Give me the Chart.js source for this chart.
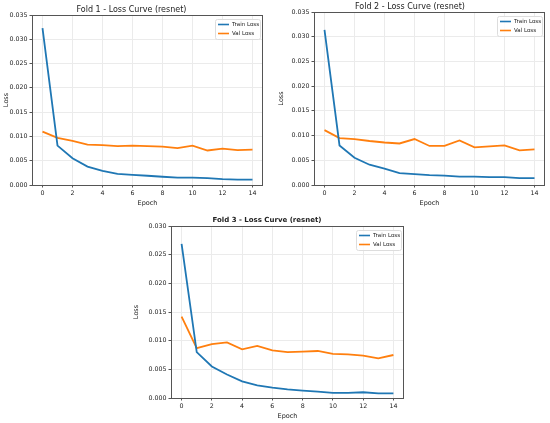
<!DOCTYPE html>
<html>
<head>
<meta charset="utf-8">
<script src="https://cdn.jsdelivr.net/npm/chart.js@4.4.1/dist/chart.umd.min.js"></script>
<style>
  body { margin: 0; background: #fff; }
  canvas { position: absolute; }
</style>
</head>
<body>
<canvas id="fold1" width="275" height="210" style="left:0px;top:0px"></canvas>
<canvas id="fold2" width="275" height="210" style="left:275px;top:0px"></canvas>
<canvas id="fold3" width="290" height="218" style="left:130px;top:205px"></canvas>
<script>
// epochs and tick labels
const epochs = [0, 1, 2, 3, 4, 5, 6, 7, 8, 9, 10, 11, 12, 13, 14];
const epochTicks = [0, 2, 4, 6, 8, 10, 12, 14];
const lossTicks35 = [0, 0.005, 0.01, 0.015, 0.02, 0.025, 0.03, 0.035];
const lossTicks30 = [0, 0.005, 0.01, 0.015, 0.02, 0.025, 0.03];

// fold 1
const trainFold1 = [0.0323, 0.0081, 0.0055, 0.0038, 0.0029, 0.0023, 0.0021, 0.0019, 0.0017, 0.0015, 0.0015, 0.0014, 0.0012, 0.0011, 0.0011];
const valFold1 = [0.0110, 0.0097, 0.0091, 0.0083, 0.0082, 0.0080, 0.0081, 0.0080, 0.0079, 0.0076, 0.0081, 0.0071, 0.0075, 0.0072, 0.0073];

// fold 2
const trainFold2 = [0.0314, 0.0080, 0.0055, 0.0041, 0.0033, 0.0024, 0.0022, 0.0020, 0.0019, 0.0017, 0.0017, 0.0016, 0.0016, 0.0014, 0.0014];
const valFold2 = [0.0111, 0.0095, 0.0093, 0.0089, 0.0086, 0.0084, 0.0093, 0.0079, 0.0079, 0.0090, 0.0076, 0.0078, 0.0080, 0.0070, 0.0072];

// fold 3
const trainFold3 = [0.0269, 0.0080, 0.0055, 0.0041, 0.0029, 0.0022, 0.0018, 0.0015, 0.0013, 0.0011, 0.0009, 0.0009, 0.0010, 0.0008, 0.0008];
const valFold3 = [0.0142, 0.0087, 0.0094, 0.0097, 0.0085, 0.0091, 0.0083, 0.0080, 0.0081, 0.0082, 0.0077, 0.0076, 0.0074, 0.0069, 0.0075];

const azul = '#1f77b4';
const laranja = '#ff7f0e';
const fonte = 'DejaVu Sans';

function pontos(valores) {
  return epochs.map((e, i) => ({ x: e, y: valores[i] }));
}

// moldura e legenda desenhadas por cima
const molduraLegenda = {
  id: 'molduraLegenda',
  afterDraw(chart) {
    const ctx = chart.ctx;
    const a = chart.chartArea;
    ctx.save();
    ctx.strokeStyle = '#555';
    ctx.lineWidth = 1;
    ctx.strokeRect(a.left + 0.5, a.top + 0.5, a.right - a.left - 1, a.bottom - a.top);

    const w = 45, h = 20;
    const x = a.right - 3 - w, y = a.top + 4;
    ctx.fillStyle = 'rgba(255,255,255,0.85)';
    ctx.strokeStyle = '#ddd';
    ctx.beginPath();
    ctx.roundRect(x + 0.5, y + 0.5, w, h, 2);
    ctx.fill();
    ctx.stroke();
    ctx.font = '5.5px "' + fonte + '"';
    ctx.textBaseline = 'middle';
    chart.data.datasets.forEach((ds, i) => {
      const ly = y + 5.5 + i * 9;
      ctx.strokeStyle = ds.borderColor;
      ctx.lineWidth = 1.6;
      ctx.beginPath();
      ctx.moveTo(x + 3, ly);
      ctx.lineTo(x + 14, ly);
      ctx.stroke();
      ctx.fillStyle = '#222';
      ctx.fillText(ds.label, x + 17, ly);
    });
    ctx.restore();
  }
};

function criaGrafico(id, titulo, treino, validacao, cfg) {
  const el = document.getElementById(id);
  return new Chart(el, {
    type: 'line',
    data: {
      datasets: [{
        label: 'Train Loss',
        data: pontos(treino),
        borderColor: azul,
        borderWidth: 1.8,
        pointRadius: 0,
        tension: 0
      }, {
        label: 'Val Loss',
        data: pontos(validacao),
        borderColor: laranja,
        borderWidth: 1.8,
        pointRadius: 0,
        tension: 0
      }]
    },
    options: {
      responsive: false,
      animation: false,
      devicePixelRatio: 1,
      layout: { padding: { left: 0, right: cfg.right, top: 0, bottom: 3 } },
      plugins: {
        legend: { display: false },
        tooltip: { enabled: false },
        title: {
          display: true,
          text: titulo,
          color: '#222',
          font: { family: fonte, size: cfg.titleSize, weight: cfg.bold ? 'bold' : 'normal' },
          padding: cfg.titlePad
        }
      },
      scales: {
        x: {
          type: 'linear',
          min: -0.7,
          max: 14.7,
          afterBuildTicks: (s) => { s.ticks = epochTicks.map(v => ({ value: v })); },
          afterFit: (s) => { s.height = cfg.xHeight; },
          border: { display: false },
          grid: { color: '#ebebeb', tickColor: '#555', tickLength: 2.5 },
          ticks: { color: '#222', font: { family: fonte, size: 6.3 }, padding: 2, maxRotation: 0 },
          title: { display: true, text: 'Epoch', color: '#222', font: { family: fonte, size: 6.5 }, padding: { top: 1, bottom: 0 } }
        },
        y: {
          min: 0,
          max: cfg.yMax,
          afterBuildTicks: (s) => { s.ticks = cfg.yTicks.map(v => ({ value: v })); },
          afterFit: (s) => { s.width = cfg.yWidth; },
          border: { display: false },
          grid: { color: '#ebebeb', tickColor: '#555', tickLength: 2.5 },
          ticks: {
            color: '#222',
            font: { family: fonte, size: 6.3 },
            padding: 2,
            callback: (v) => v.toFixed(3)
          },
          title: { display: true, text: 'Loss', color: '#222', font: { family: fonte, size: 6.5 }, padding: { top: 2, bottom: 1 } }
        }
      }
    },
    plugins: [molduraLegenda]
  });
}

criaGrafico('fold1', 'Fold 1 - Loss Curve (resnet)', trainFold1, valFold1, {
  yMax: 0.035, yTicks: lossTicks35, yWidth: 32, xHeight: 22, right: 12,
  titleSize: 8, bold: false, titlePad: { top: 5.4, bottom: 0 }
});

criaGrafico('fold2', 'Fold 2 - Loss Curve (resnet)', trainFold2, valFold2, {
  yMax: 0.035, yTicks: lossTicks35, yWidth: 39, xHeight: 22, right: 5,
  titleSize: 8, bold: false, titlePad: { top: 2.4, bottom: 0 }
});

criaGrafico('fold3', 'Fold 3 - Loss Curve (resnet)', trainFold3, valFold3, {
  yMax: 0.030, yTicks: lossTicks30, yWidth: 41, xHeight: 22, right: 16,
  titleSize: 7, bold: true, titlePad: { top: 11, bottom: 1.6 }
});
</script>
</body>
</html>
